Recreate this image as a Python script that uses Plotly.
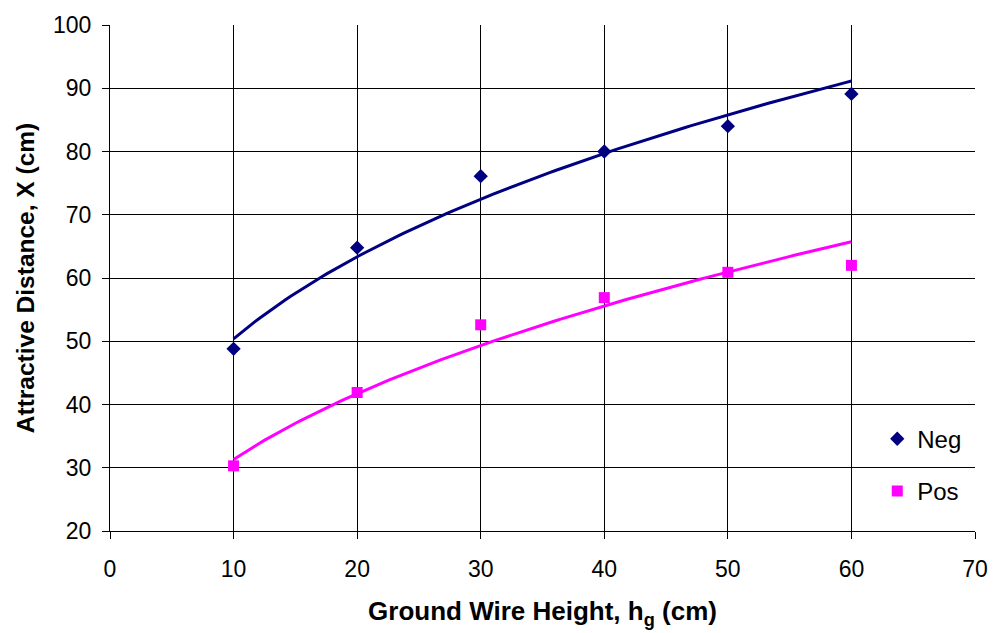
import numpy as np
import plotly.graph_objects as go

heights = [10, 20, 30, 40, 50, 60]
neg_values = [48.8, 64.8, 76.1, 80.0, 84.0, 89.1]
pos_values = [30.3, 41.9, 52.6, 56.9, 60.9, 62.0]

x_ticks = [0, 10, 20, 30, 40, 50, 60, 70]
y_ticks = [20, 30, 40, 50, 60, 70, 80, 90, 100]

NAVY = "#000080"
MAGENTA = "#FF00FF"
FONT = "Liberation Sans, Arial, sans-serif"


def power_fit(x, y):
    b, ln_a = np.polyfit(np.log(x), np.log(y), 1)
    xs = np.linspace(min(x), max(x), 120)
    return xs, np.exp(ln_a) * xs ** b


fig = go.Figure()
for vals, color in [(neg_values, NAVY), (pos_values, MAGENTA)]:
    xs, ys = power_fit(heights, vals)
    fig.add_trace(go.Scatter(x=xs, y=ys, mode="lines", line=dict(color=color, width=3),
                             showlegend=False, hoverinfo="skip"))
for vals, color, name, sym, size in [
    (neg_values, NAVY, "Neg", "diamond", 11),
    (pos_values, MAGENTA, "Pos", "square", 11),
]:
    fig.add_trace(go.Scatter(x=heights, y=vals, mode="markers", name=name, legendgroup=name,
                             marker=dict(symbol=sym, size=size, color=color)))

axis_common = dict(
    showgrid=True, gridcolor="#000000", gridwidth=1,
    showline=True, linecolor="#000000", linewidth=1,
    ticks="outside", ticklen=7, tickcolor="#000000",
    tickfont=dict(family=FONT, size=23, color="#000000"),
    ticklabeloverflow="allow",
    zeroline=False, mirror=False,
)

fig.update_layout(
    width=1000, height=633,
    margin=dict(l=110, r=16, t=20, b=101),
    paper_bgcolor="white", plot_bgcolor="white",
    font=dict(family=FONT, color="#000000"),
    xaxis=dict(range=[0, 70], tickvals=x_ticks, ticklabelstandoff=10, **axis_common,
               title=dict(text="<b>Ground Wire Height, h<sub>g</sub> (cm)</b>",
                          font=dict(family=FONT, size=26), standoff=21)),
    yaxis=dict(range=[20, 100], tickvals=y_ticks, ticklabelstandoff=6, **axis_common,
               title=dict(text="<b>Attractive Distance, X (cm)</b>",
                          font=dict(family=FONT, size=24.5), standoff=11)),
    legend=dict(x=0.887, y=0.226, xanchor="left", yanchor="top",
                font=dict(family=FONT, size=24), tracegroupgap=18,
                bgcolor="rgba(0,0,0,0)", itemwidth=30),
    showlegend=True,
)

fig.write_html(
    "out.html",
    config={"displayModeBar": False},
    post_script=(
        "document.documentElement.style.margin='0';"
        "document.documentElement.style.overflow='hidden';"
        "document.body.style.margin='0';"
        "document.body.style.overflow='hidden';"
    ),
)
